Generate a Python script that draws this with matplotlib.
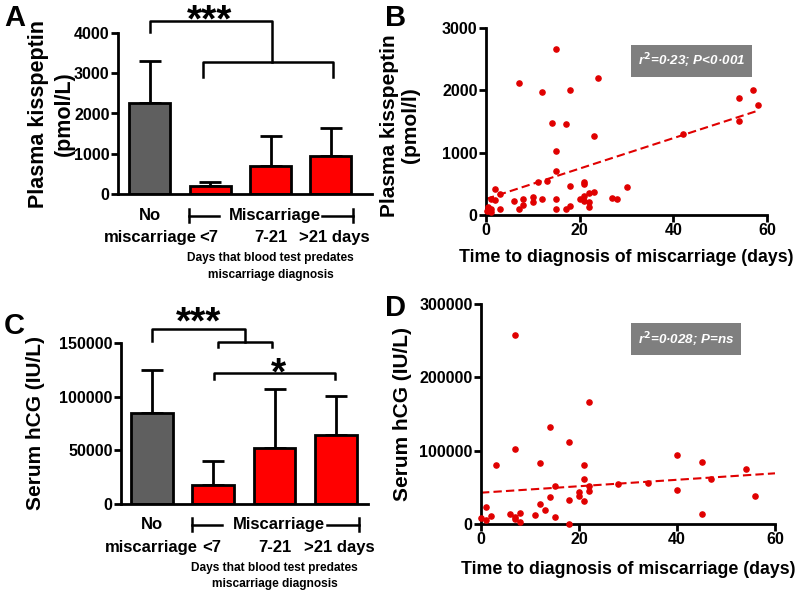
import numpy as np
import matplotlib
matplotlib.use("Agg")
import matplotlib.pyplot as plt

plt.rcParams['font.family'] = ['Liberation Sans', 'DejaVu Sans']
plt.rcParams['font.weight'] = 'bold'

# ---------------- data ----------------
groups = ["No miscarriage", "<7", "7-21", ">21 days"]
kiss_mean = [2250, 200, 700, 950]
kiss_err = [1050, 100, 750, 700]
hcg_mean = [85000, 17500, 52000, 64000]
hcg_err = [39500, 22500, 55500, 37000]

b_days = [15, 7, 12, 18, 24, 14, 17, 23, 15, 15, 11, 13, 2, 3, 1, 2, 6, 8, 10, 10,
          12, 15, 18, 21, 21, 21, 22, 23, 20, 21, 22, 22, 18, 17, 15, 7, 8, 3, 0.5, 1,
          0.3, 1, 27, 28, 30, 42, 54, 54, 57, 58]
b_kiss = [2660, 2110, 1975, 2010, 2205, 1473, 1462, 1260, 1028, 702, 525, 546, 418, 337, 252, 236, 230, 252, 295, 214,
          257, 252, 471, 530, 498, 311, 359, 375, 257, 225, 204, 123, 139, 102, 96, 96, 166, 96, 123, 96,
          70, 54, 279, 257, 445, 1300, 1870, 1516, 2003, 1768]
b_fit = (257, 24.4)   # intercept, slope
b_fit_range = (0, 58)

d_days = [7, 22, 14, 18, 7, 3, 12, 21, 21, 15, 22, 22, 20, 20, 21, 18, 14, 12, 13, 11,
          15, 18, 28, 34, 40, 40, 45, 45, 47, 54, 56, 1, 2, 1, 0, 6, 7, 7, 8, 8]
d_hcg = [257700, 166800, 132700, 112300, 101800, 80500, 83200, 80500, 60900, 51400, 52300, 44500, 43200, 38600, 31800, 32700, 36800, 27300, 19500, 11800,
         9100, 0, 55000, 55500, 94100, 45900, 84100, 13200, 60900, 75000, 37700, 22700, 10500, 5000, 7700, 13200, 9100, 6800, 14500, 3200]
d_fit = (42700, 440)
d_fit_range = (0, 60)

bar_colors = ["#5f5f5f", "#ff0000", "#ff0000", "#ff0000"]
pt_color = "#e00000"

fig = plt.figure(figsize=(8, 5.92), dpi=100)

def px_axes(l, t, r, b):
    return fig.add_axes([l / 800, 1 - b / 592, (r - l) / 800, (b - t) / 592])

def style(ax):
    for s in ['top', 'right']:
        ax.spines[s].set_visible(False)
    for s in ['left', 'bottom']:
        ax.spines[s].set_linewidth(2)
    ax.tick_params(width=2, length=5, labelsize=11.5, pad=1)
    for lab in ax.get_xticklabels() + ax.get_yticklabels():
        lab.set_fontweight('bold')

def bar_panel(ax, means, errs, xlim, ylim, yticks):
    x = np.arange(len(means))
    ax.bar(x, means, width=0.68, color=bar_colors, edgecolor='black', linewidth=2, zorder=2)
    ax.errorbar(x, means, yerr=[np.zeros(len(errs)), errs], fmt='none', ecolor='black',
                elinewidth=2, capsize=8, capthick=2, zorder=1)
    ax.set_xlim(*xlim)
    ax.set_ylim(*ylim)
    ax.set_yticks(yticks)
    ax.set_xticks([])
    style(ax)

def group_labels(ax, y1, y2, y3, y4):
    tr = ax.get_xaxis_transform()
    kw = dict(transform=tr, ha='center', va='center', fontsize=12, fontweight='bold', clip_on=False)
    ax.text(0, y1, "No", **kw)
    ax.text(0, y2, "miscarriage", **kw)
    ax.text(0.97, y2, groups[1], **kw)
    ax.text(2, y2, groups[2], **kw)
    ax.text(3.05, y2, groups[3], **kw)
    ax.text(2.07, y1, "Miscarriage", **kw)
    lk = dict(transform=tr, color='black', lw=1.8, clip_on=False)
    ax.plot([0.65, 1.15], [y1, y1], **lk)
    ax.plot([2.85, 3.37], [y1, y1], **lk)
    ax.plot([0.65, 0.65], [y1 - 0.04, y1 + 0.04], **lk)
    ax.plot([3.37, 3.37], [y1 - 0.04, y1 + 0.04], **lk)
    sk = dict(transform=tr, ha='center', va='center', fontsize=8.6, fontweight='bold', clip_on=False)
    ax.text(2.0, y3, "Days that blood test predates", **sk)
    ax.text(2.0, y4, "miscarriage diagnosis", **sk)

def bracket(ax, x0, x1, y, dl, dr):
    ax.plot([x0, x0, x1, x1], [y - dl, y, y, y - dr], color='black', lw=1.8, clip_on=False)

star_kw = dict(ha='center', va='baseline', fontsize=28, fontweight='bold', clip_on=False)

# ---------------- Panel A ----------------
axA = px_axes(118, 33, 372, 194)
bar_panel(axA, kiss_mean, kiss_err, (-0.53, 3.68), (0, 4000), [0, 1000, 2000, 3000, 4000])
axA.set_ylabel("Plasma kisspeptin\n(pmol/L)", fontsize=15.5, fontweight='bold', linespacing=1.3)
axA.yaxis.set_label_coords(-0.169, 0.5)
group_labels(axA, -0.135, -0.27, -0.40, -0.505)
bracket(axA, 0, 2.03, 4300, 275, 1025)
bracket(axA, 0.88, 3.03, 3275, 375, 375)
axA.text(0.98, 4050, "***", **star_kw)

# ---------------- Panel C ----------------
axC = px_axes(121, 343, 368, 504)
bar_panel(axC, hcg_mean, hcg_err, (-0.5, 3.52), (0, 150000), [0, 50000, 100000, 150000])
axC.set_ylabel("Serum hCG (IU/L)", fontsize=15, fontweight='bold')
axC.yaxis.set_label_coords(-0.308, 0.5)
group_labels(axC, -0.13, -0.27, -0.40, -0.497)
bracket(axC, 0, 1.52, 163000, 11000, 12000)
bracket(axC, 1.08, 1.96, 151000, 4700, 4700)
axC.text(0.77, 158500, "***", **star_kw)
bracket(axC, 1.02, 2.98, 122000, 5500, 5500)
axC.text(2.06, 111500, "*", **star_kw)

# ---------------- Panel B ----------------
axB = px_axes(486, 28, 767, 215)
axB.scatter(b_days, b_kiss, s=14, color=pt_color, zorder=3, clip_on=False)
xf = np.array(b_fit_range, dtype=float)
axB.plot(xf, b_fit[0] + b_fit[1] * xf, ls='--', color=pt_color, lw=1.5, dashes=(4, 2))
axB.set_xlim(0, 60)
axB.set_ylim(0, 3000)
axB.set_xticks([0, 20, 40, 60])
axB.set_yticks([0, 1000, 2000, 3000])
style(axB)
axB.set_ylabel("Plasma kisspeptin\n(pmol/l)", fontsize=15, fontweight='bold', linespacing=1.1)
axB.yaxis.set_label_coords(-0.235, 0.48)
axB.set_xlabel("Time to diagnosis of miscarriage (days)", fontsize=12.8, fontweight='bold', labelpad=8)
axB.text(0.731, 0.824, "r$^2$=0·23; P<0·001", transform=axB.transAxes, ha='center', va='center',
         fontsize=9.6, fontweight='bold', style='italic', color='white',
         bbox=dict(boxstyle='square,pad=0.5', fc='#7f7f7f', ec='none'))

# ---------------- Panel D ----------------
axD = px_axes(481, 304, 775, 524)
axD.scatter(d_days, d_hcg, s=14, color=pt_color, zorder=3, clip_on=False)
xf = np.array(d_fit_range, dtype=float)
axD.plot(xf, d_fit[0] + d_fit[1] * xf, ls='--', color=pt_color, lw=1.5, dashes=(4, 2))
axD.set_xlim(0, 60)
axD.set_ylim(0, 300000)
axD.set_xticks([0, 20, 40, 60])
axD.set_yticks([0, 100000, 200000, 300000])
style(axD)
axD.set_ylabel("Serum hCG (IU/L)", fontsize=15, fontweight='bold')
axD.yaxis.set_label_coords(-0.235, 0.5)
axD.set_xlabel("Time to diagnosis of miscarriage (days)", fontsize=12.8, fontweight='bold', labelpad=10)
axD.text(0.697, 0.839, "r$^2$=0·028; P=ns", transform=axD.transAxes, ha='center', va='center',
         fontsize=9.6, fontweight='bold', style='italic', color='white',
         bbox=dict(boxstyle='square,pad=0.5', fc='#7f7f7f', ec='none'))

# panel letters
for lbl, x, y in [("A", 4, 4), ("B", 385, 4), ("C", 4, 312), ("D", 385, 294)]:
    fig.text(x / 800, 1 - y / 592, lbl, ha='left', va='top', fontsize=21, fontweight='bold')

fig.savefig("out.png", dpi=100)
